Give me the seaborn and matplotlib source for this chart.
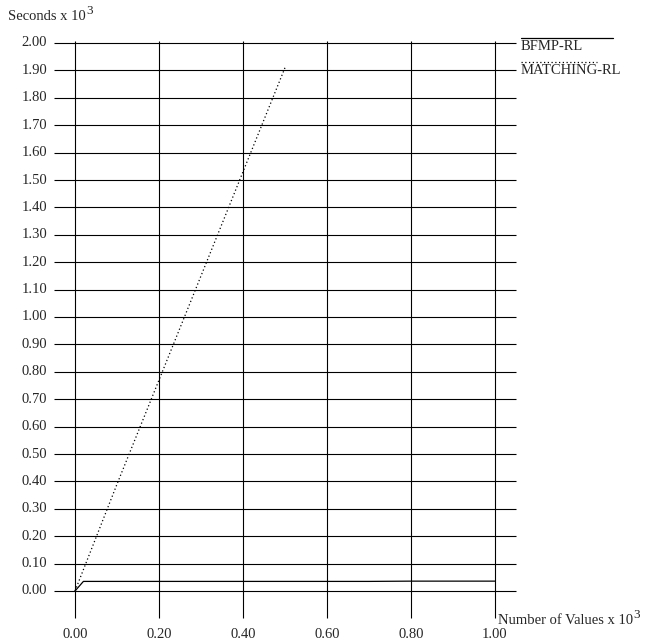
import numpy as np
import pandas as pd
import matplotlib
matplotlib.use("Agg")
import matplotlib.pyplot as plt
import seaborn as sns

# Run times (seconds x 10^3) against number of values (x 10^3)
bfmp_n = [0.00, 0.02, 0.10, 0.20, 0.30, 0.40, 0.50, 0.60, 0.70, 0.80, 0.90, 1.00]
bfmp_t = [0.00, 0.035, 0.035, 0.035, 0.035, 0.035, 0.035, 0.035, 0.035, 0.036, 0.036, 0.036]

matching_n = [0.00, 0.10, 0.20, 0.30, 0.40, 0.50]
matching_t = [0.00, 0.39, 0.77, 1.15, 1.53, 1.91]

series_names = ["BFMP-RL", "MATCHING-RL"]

x_ticks = [0.00, 0.20, 0.40, 0.60, 0.80, 1.00]
y_ticks = [round(0.1 * i, 2) for i in range(21)]
x_tick_labels = [f"{v:.2f}" for v in x_ticks]
y_tick_labels = [f"{v:.2f}" for v in y_ticks]

x_title = ("Number of Values x 10", "3")
y_title = ("Seconds x 10", "3")

sns.set_theme(style="white")
plt.rcParams["font.family"] = ["Liberation Serif", "DejaVu Serif"]

W, H, DPI = 647, 641, 100
fig = plt.figure(figsize=(W / DPI, H / DPI), dpi=DPI)
ax = fig.add_axes([0, 0, 1, 1])
ax.set_axis_off()

# pixel layout: x=0 at 75px, x=1 at 495px; y=0 at 591px from top, 0.1 per 27.4px
x0_px, xu_px = 75.0, 420.0
y0_px, yu_px = 591.0, 274.0
ax.set_xlim(-x0_px / xu_px, (W - x0_px) / xu_px)
ax.set_ylim(-(H - y0_px) / yu_px, y0_px / yu_px)


def px_to_data(px, py):
    return (px - x0_px) / xu_px, (y0_px - py) / yu_px


fs = 10.5
grid_kw = dict(color="black", linewidth=0.8)

# grid: horizontal rules overhang both sides, vertical rules run below zero
ax.hlines(y_ticks, -0.05, 1.05, **grid_kw)
ax.vlines(x_ticks, -0.1, 2.008, **grid_kw)

for v, lab in zip(y_ticks, y_tick_labels):
    ax.text(-0.066, v, lab, ha="right", va="center", fontsize=fs)
for v, lab in zip(x_ticks, x_tick_labels):
    ax.text(v, px_to_data(0, 635)[1], lab, ha="center", va="center", fontsize=fs)


def title_with_power(px, py, base, power):
    x, y = px_to_data(px, py)
    t = ax.text(x, y, base, ha="left", va="baseline", fontsize=fs)
    fig.canvas.draw()
    bb = t.get_window_extent()
    xs, _ = ax.transData.inverted().transform((bb.x1 + 0.5, 0))
    _, ys = px_to_data(0, py - 6)
    ax.text(xs, ys, power, ha="left", va="baseline", fontsize=fs * 0.9)


title_with_power(8, 20, *y_title)
title_with_power(498, 624, *x_title)

df = pd.concat([
    pd.DataFrame({"n": bfmp_n, "t": bfmp_t, "series": series_names[0]}),
    pd.DataFrame({"n": matching_n, "t": matching_t, "series": series_names[1]}),
])
sns.lineplot(data=df, x="n", y="t", hue="series", style="series",
             palette=["black", "black"],
             dashes={series_names[0]: "", series_names[1]: (1, 2)},
             linewidth=0.9, legend=False, sort=False, estimator=None, ax=ax)

# legend: each name under a sample of its line
lx0, _ = px_to_data(521, 0)
lx1, _ = px_to_data(613, 0)
lx2, _ = px_to_data(597, 0)
_, ly_a = px_to_data(0, 38)
_, ly_b = px_to_data(0, 62)
ax.plot([lx0, lx1], [ly_a, ly_a], color="black", linewidth=0.9)
ax.plot([lx0, lx2], [ly_b, ly_b], color="black", linewidth=0.9, linestyle=(0, (1, 2)))
_, ty = px_to_data(0, 46)
ax.text(lx0, ty, series_names[0], ha="left", va="center", fontsize=fs)
_, ty = px_to_data(0, 70)
ax.text(lx0, ty, series_names[1], ha="left", va="center", fontsize=fs)

fig.savefig("out.png", dpi=DPI, facecolor="white")
